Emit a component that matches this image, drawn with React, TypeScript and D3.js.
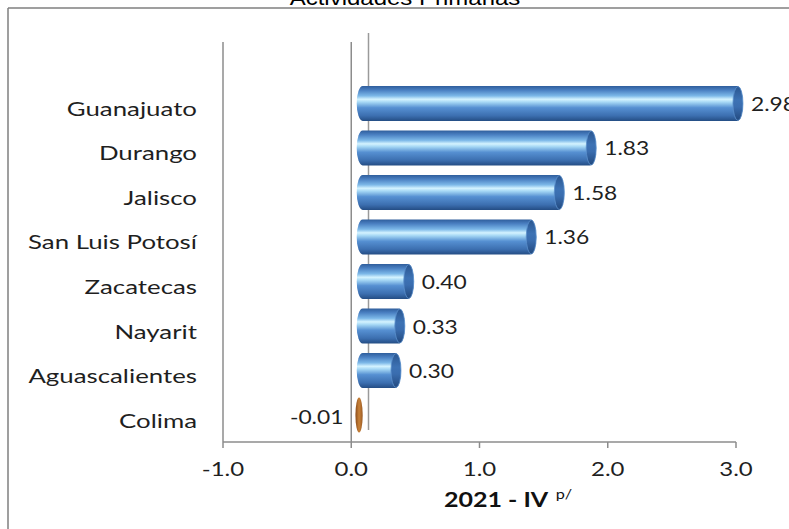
import React from 'react';
import * as d3 from 'd3';

const categories = ['Guanajuato', 'Durango', 'Jalisco', 'San Luis Potosí', 'Zacatecas', 'Nayarit', 'Aguascalientes', 'Colima'];
const values = [2.98, 1.83, 1.58, 1.36, 0.40, 0.33, 0.30, -0.01];
const axisTicks = [-1, 0, 1, 2, 3];
const chartTitle = 'Actividades Primarias';
const axisTitle = '2021 - IV';
const axisTitleSup = 'p/';

const FONT = 'Lato, "Open Sans", sans-serif';

const locale = d3.formatLocale({ decimal: '.', thousands: ',', grouping: [3], currency: ['$', ''], minus: '-' });
const fmt1 = locale.format('.1f');
const fmt2 = locale.format('.2f');

function SText(props: any) {
  const { x, y, s = 1, anchor = 'start', size = 18, weight = 400, fill = '#1f1f1f', family = FONT, children } = props;
  return (
    <text
      transform={`translate(${x},${y}) scale(${s},1)`}
      textAnchor={anchor}
      fontSize={size}
      fontWeight={weight}
      fill={fill}
      fontFamily={family}
    >
      {children}
    </text>
  );
}

export default function App() {
  const W = 789;
  const H = 529;
  const xAxis = d3.scaleLinear().domain([-1, 3]).range([223, 736]);
  const xBar = d3.scaleLinear().domain([0, 3]).range([362.7, 745.5]);
  const y = d3
    .scaleBand<string>()
    .domain(categories)
    .range([81.25, 437.25])
    .paddingInner(0.2135)
    .paddingOuter(0.1067);
  const bh = y.bandwidth();
  const axisY = 442;

  return (
    <svg
      width={W}
      height={H}
      style={{ position: 'absolute', left: 0, top: 0, background: '#fff' }}
    >
      <defs>
        <linearGradient id="blueBar" x1="0" y1="0" x2="0" y2="1">
          <stop offset="0%" stopColor="#2f5e9c" />
          <stop offset="12%" stopColor="#4a80c2" />
          <stop offset="28%" stopColor="#7cb8e8" />
          <stop offset="38%" stopColor="#d4f3ff" />
          <stop offset="46%" stopColor="#a6d8f5" />
          <stop offset="62%" stopColor="#5690d2" />
          <stop offset="85%" stopColor="#3c6fb0" />
          <stop offset="100%" stopColor="#244d84" />
        </linearGradient>
        <linearGradient id="blueCap" x1="0" y1="0" x2="0" y2="1">
          <stop offset="0%" stopColor="#2a5690" />
          <stop offset="40%" stopColor="#3d72b4" />
          <stop offset="60%" stopColor="#3a6daf" />
          <stop offset="100%" stopColor="#22497e" />
        </linearGradient>
        <linearGradient id="brownBar" x1="0" y1="0" x2="1" y2="0">
          <stop offset="0%" stopColor="#8a4c1c" />
          <stop offset="50%" stopColor="#c98238" />
          <stop offset="100%" stopColor="#9a5a24" />
        </linearGradient>
      </defs>

      {/* cut-off title */}
      <SText x={405} y={5} s={1.2} anchor="middle" size={20} fill="#000" family='"Liberation Sans", Arial, sans-serif'>
        {chartTitle}
      </SText>

      {/* frame */}
      <line x1={8} x2={W} y1={8} y2={8} stroke="#7f7f7f" strokeWidth={1.5} />
      <line x1={8} x2={8} y1={8} y2={H} stroke="#7f7f7f" strokeWidth={1.5} />

      {/* vertical lines */}
      <line x1={xAxis(-1)} x2={xAxis(-1)} y1={42} y2={axisY} stroke="#8c8c8c" strokeWidth={1.5} />
      <line x1={xAxis(0)} x2={xAxis(0)} y1={42} y2={axisY} stroke="#8c8c8c" strokeWidth={1.5} />
      <line x1={368.5} x2={368.5} y1={33} y2={430} stroke="#9a9a9a" strokeWidth={1.5} />

      {/* x axis */}
      <line x1={xAxis(-1)} x2={xAxis(3)} y1={axisY} y2={axisY} stroke="#8c8c8c" strokeWidth={1.5} />
      {axisTicks.map((t) => (
        <g key={t}>
          <line x1={xAxis(t)} x2={xAxis(t)} y1={axisY} y2={axisY + 6} stroke="#8c8c8c" strokeWidth={1.5} />
          <SText x={xAxis(t)} y={476} s={1.2} anchor="middle" size={20}>
            {fmt1(t)}
          </SText>
        </g>
      ))}

      {/* bars */}
      {categories.map((c, i) => {
        const v = values[i];
        const x0 = Math.min(xBar(0), xBar(v)) - 6;
        const x1 = Math.max(xBar(0), xBar(v));
        const w = x1 - x0;
        const yc = (y(c) as number) + bh / 2;
        const rx = Math.min(6, w / 2);
        return (
          <g key={c}>
            <SText x={197} y={yc + 12.5} s={1.36} anchor="end" size={19}>
              {c}
            </SText>
            {v >= 0 ? (
              <g>
                <rect x={x0} y={y(c)} width={w} height={bh} rx={rx} ry={bh / 2} fill="url(#blueBar)" />
                <ellipse cx={x1 - 5} cy={yc} rx={5} ry={bh / 2 - 0.5} fill="url(#blueCap)" stroke="#5b8fcc" strokeWidth={0.8} />
                <SText x={x1 + 8} y={yc + 7.5} s={1.2} anchor="start" size={19}>
                  {fmt2(v)}
                </SText>
              </g>
            ) : (
              <g>
                <rect x={x0} y={y(c)} width={w} height={bh} rx={rx} ry={bh / 2} fill="url(#brownBar)" />
                <SText x={x0 - 12} y={yc + 9} s={1.2} anchor="end" size={19}>
                  {fmt2(v)}
                </SText>
              </g>
            )}
          </g>
        );
      })}

      {/* axis title */}
      <text
        transform={`translate(508,507) scale(1.25,1)`}
        textAnchor="middle"
        fontFamily={FONT}
        fontSize={20}
        fontWeight={700}
        fill="#111"
      >
        {axisTitle}
        <tspan dx={6} dy={-8} fontSize={13} fontWeight={400}>
          {axisTitleSup}
        </tspan>
      </text>
    </svg>
  );
}
